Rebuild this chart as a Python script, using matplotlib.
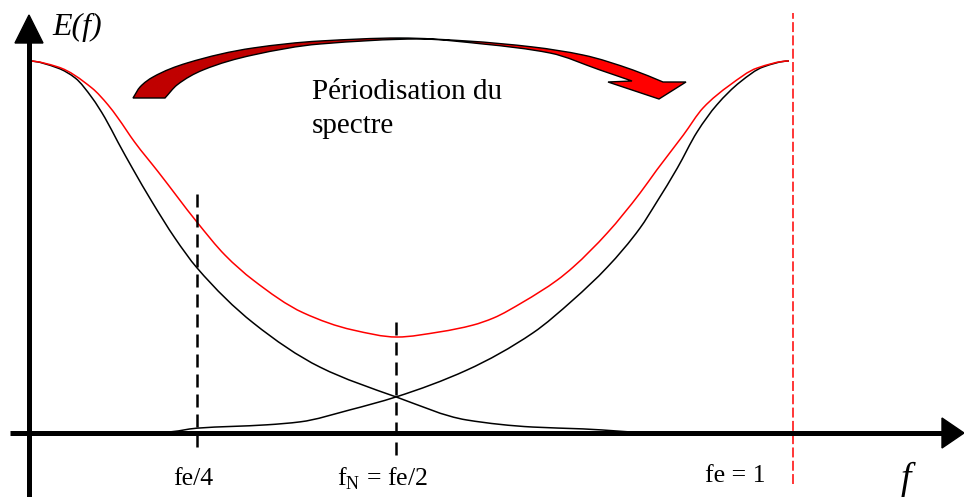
"""
Périodisation du spectre : E(f), sa copie décalée de fe, et leur somme.
"""
import matplotlib
matplotlib.use('Agg')
import matplotlib.pyplot as plt
from matplotlib.path import Path
from matplotlib.patches import PathPatch, Polygon
from matplotlib.colors import LinearSegmentedColormap
import numpy as np

W, H, DPI = 9.64, 4.97, 100
SERIF = 'Liberation Serif'
plt.rcParams['mathtext.fontset'] = 'custom'
plt.rcParams['mathtext.rm'] = SERIF

# spectre de base E(f) (f en unités de fe, E normalisé)
f_base = [0.0, 0.038, 0.061, 0.083, 0.100, 0.117, 0.136, 0.162, 0.192,
          0.221, 0.295, 0.383, 0.483, 0.576, 0.663, 0.729, 0.830]
e_base = [1.0, 0.981, 0.954, 0.901, 0.847, 0.782, 0.712, 0.621, 0.524,
          0.444, 0.296, 0.177, 0.097, 0.035, 0.016, 0.011, 0.0]

# copie centrée sur fe = 1
f_alias = [0.182, 0.221, 0.313, 0.357, 0.422, 0.483, 0.576, 0.663, 0.716,
           0.761, 0.804, 0.826, 0.853, 0.879, 0.905, 0.936, 0.966, 1.0]
e_alias = [0.003, 0.013, 0.022, 0.030, 0.062, 0.097, 0.169, 0.269, 0.358,
           0.446, 0.551, 0.621, 0.712, 0.809, 0.882, 0.944, 0.984, 1.0]

# somme (en rouge)
f_sum = [0.0, 0.038, 0.083, 0.104, 0.117, 0.139, 0.170, 0.221, 0.258,
         0.295, 0.361, 0.426, 0.484, 0.541, 0.584, 0.611, 0.650, 0.695,
         0.716, 0.761, 0.804, 0.826, 0.861, 0.887, 0.922, 0.958, 1.0]
e_sum = [1.0, 0.984, 0.927, 0.882, 0.847, 0.782, 0.702, 0.567, 0.478,
         0.411, 0.323, 0.277, 0.258, 0.272, 0.290, 0.309, 0.352, 0.411,
         0.446, 0.538, 0.645, 0.707, 0.801, 0.874, 0.935, 0.981, 1.0]

# repères verticaux pointillés
guide_f = [0.221, 0.483]
guide_top = [0.659, 0.298]
guide_bottom = [-0.038, -0.059]
fe_line = 1.005

# libellés sous l'axe (gauche, ligne de base en px)
labels = ['fe/4', r'f$_\mathrm{N}$ = fe/2', 'fe = 1']
label_x = [173, 337, 705]
label_y = [485, 485, 482]

# contour de la flèche courbe (px), bords rangés par x croissant
outer_x = [133, 140, 153, 187, 253, 320, 400, 467, 533, 583, 633, 663]
outer_y = [98, 87, 77, 63, 48, 41, 38, 41, 47, 55, 70, 82]
inner_x = [165, 177, 203, 253, 320, 420, 483, 550, 600, 632]
inner_y = [98, 85, 70, 55, 44, 39, 44, 53, 70, 81]
head_x = [686, 659, 608]
head_y = [82, 99, 82]


def hermite_verts(x, y, s0=None, s1=None):
    """Courbe lisse (Hermite monotone -> Bézier cubiques) passant par les points."""
    x = np.asarray(x, float)
    y = np.asarray(y, float)
    h = np.diff(x)
    d = np.diff(y) / h
    m = np.zeros(len(x))
    for i in range(1, len(x) - 1):
        if d[i - 1] * d[i] > 0:
            w1 = 2 * h[i] + h[i - 1]
            w2 = h[i] + 2 * h[i - 1]
            m[i] = (w1 + w2) / (w1 / d[i - 1] + w2 / d[i])
    m[0] = d[0] if s0 is None else s0
    m[-1] = d[-1] if s1 is None else s1
    verts = [(x[0], y[0])]
    for i in range(len(x) - 1):
        verts += [(x[i] + h[i] / 3, y[i] + m[i] * h[i] / 3),
                  (x[i + 1] - h[i] / 3, y[i + 1] - m[i + 1] * h[i] / 3),
                  (x[i + 1], y[i + 1])]
    return verts


def curve_path(x, y, s0=0, s1=0):
    v = hermite_verts(x, y, s0, s1)
    return Path(v, [Path.MOVETO] + [Path.CURVE4] * (len(v) - 1))


fig = plt.figure(figsize=(W, H), dpi=DPI)
fig.patch.set_facecolor('white')

# axe des données : f = (px-29)/760, E = (433-py)/372
ax = fig.add_axes([0, 0, 1, 1])
ax.set_xlim(-29 / 760, (964 - 29) / 760)
ax.set_ylim((433 - 497) / 372, 433 / 372)
ax.axis('off')

# axe "pixels" pour les décorations
deco = fig.add_axes([0, 0, 1, 1])
deco.axis('off')
deco.patch.set_alpha(0)

for fx, fy, col in [(f_base, e_base, 'black'), (f_alias, e_alias, 'black'),
                    (f_sum, e_sum, '#ff0000')]:
    ax.add_patch(PathPatch(curve_path(fx, fy), facecolor='none',
                           edgecolor=col, lw=1.1, zorder=3))

for gx, gt, gb in zip(guide_f, guide_top, guide_bottom):
    ax.plot([gx, gx], [gb, gt], color='black', lw=1.8,
            dashes=(5.2, 2.8), zorder=4)
ax.plot([fe_line, fe_line], [-0.137, 1.129], color='#ff0000', lw=1.1,
        dashes=(6.5, 2.2), zorder=4)

# axes avec flèches
deco.plot([29, 29], [497, 40], color='black', lw=3.6, solid_capstyle='butt',
          zorder=5)
deco.add_patch(Polygon([(15, 43), (43, 43), (29, 15)], closed=True,
                       color='black', zorder=5))
deco.plot([10, 945], [433, 433], color='black', lw=3.6, solid_capstyle='butt',
          zorder=5)
deco.add_patch(Polygon([(942, 418), (942, 448), (964, 433)], closed=True,
                       color='black', zorder=5))

# flèche courbe rouge (dégradé)
ov = hermite_verts(outer_x, outer_y)
iv = hermite_verts(inner_x, inner_y)[::-1]
verts = ov + list(zip(head_x, head_y)) + iv + [ov[0]]
codes = ([Path.MOVETO] + [Path.CURVE4] * (len(ov) - 1)
         + [Path.LINETO] * (len(head_x) + 1)
         + [Path.CURVE4] * (len(iv) - 1) + [Path.CLOSEPOLY])
arrow_path = Path(verts, codes)
grad = LinearSegmentedColormap.from_list(
    'rouge', [(0, '#c00000'), (0.45, '#c00000'), (0.6, '#ff0000'), (1, '#ff0000')])
img = deco.imshow(np.linspace(0, 1, 256)[None, :], cmap=grad, aspect='auto',
                  extent=(130, 690, 100, 35), zorder=2)
clip = PathPatch(arrow_path, facecolor='none', edgecolor='none',
                 transform=deco.transData)
deco.add_patch(clip)
img.set_clip_path(clip)
deco.add_patch(PathPatch(arrow_path, facecolor='none', edgecolor='black',
                         lw=1.0, joinstyle='miter', zorder=3))
deco.set_xlim(0, 964)
deco.set_ylim(497, 0)

# textes
deco.text(52, 35, 'E(f)', fontsize=23, family=SERIF, style='italic',
          va='baseline', ha='left')
deco.text(312, 99, 'Périodisation du', fontsize=21, family=SERIF,
          va='baseline', ha='left')
deco.text(312, 133, 'spectre', fontsize=21, family=SERIF,
          va='baseline', ha='left')
for lab, lx, ly in zip(labels, label_x, label_y):
    deco.text(lx, ly, lab, fontsize=18.5, family=SERIF, va='baseline',
              ha='left')
deco.text(901, 489, 'f', fontsize=27, family=SERIF, style='italic',
          va='baseline', ha='left')

fig.savefig('out.png', dpi=DPI, facecolor='white')
